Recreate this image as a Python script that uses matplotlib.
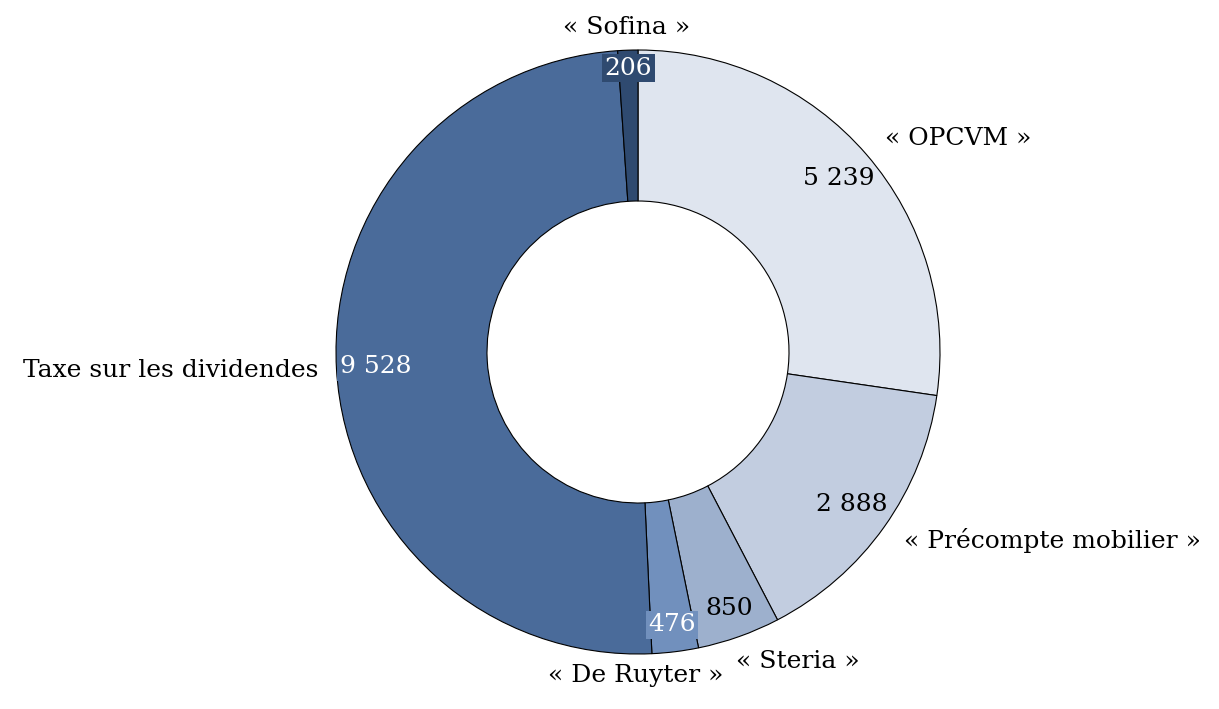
import numpy as np
import matplotlib
matplotlib.use("Agg")
import matplotlib.pyplot as plt

categories = ["« OPCVM »", "« Précompte mobilier »", "« Steria »", "« De Ruyter »",
              "Taxe sur les dividendes", "« Sofina »"]
values = [5239, 2888, 850, 476, 9528, 206]
value_labels = ["5 239", "2 888", "850", "476", "9 528", "206"]

colors = ["#dfe5ef", "#c2cde0", "#9db0cd", "#7190bd", "#4a6b9a", "#2f4a70"]
text_colors = ["black", "black", "black", "white", "white", "white"]
value_radius = [0.88, 0.87, 0.90, 0.91, 0.87, 0.94]
label_radius = [1.08, 1.08, 1.075, 1.07, 1.06, 1.075]
label_angle_shift = [0, 0, -2, -7.5, 0, 0]
label_ha = ["left", "left", "left", "center", "right", "center"]

plt.rcParams['font.family'] = ['DejaVu Serif']

W, H, DPI = 1219, 709, 100
fig = plt.figure(figsize=(W / DPI, H / DPI), dpi=DPI)
cx, cy, Rpx = 638, 709 - 352, 302
L = 1.15
S = 2 * L * Rpx
ax = fig.add_axes([(cx - S / 2) / W, (cy - S / 2) / H, S / W, S / H])

wedges, _ = ax.pie(values, colors=colors, startangle=90, counterclock=False, radius=1.0,
                   wedgeprops=dict(width=0.5, edgecolor='black', linewidth=0.8))
ax.set_xlim(-L, L)
ax.set_ylim(-L, L)
ax.set_aspect('equal')
ax.axis('off')

total = sum(values)
cum = 0
for i, v in enumerate(values):
    mid = 90 - 360 * (cum + v / 2) / total
    cum += v
    a = np.deg2rad(mid)
    r = value_radius[i]
    kw = {}
    if text_colors[i] == "white":
        kw['bbox'] = dict(boxstyle='square,pad=0.1', facecolor=colors[i], edgecolor='none')
    ax.text(r * np.cos(a), r * np.sin(a), value_labels[i], ha='center', va='center',
            fontsize=18, color=text_colors[i], **kw)
    la = np.deg2rad(mid + label_angle_shift[i])
    lr = label_radius[i]
    ax.text(lr * np.cos(la), lr * np.sin(la), categories[i], ha=label_ha[i], va='center',
            fontsize=18, color='black')

fig.savefig("out.png", dpi=DPI)
